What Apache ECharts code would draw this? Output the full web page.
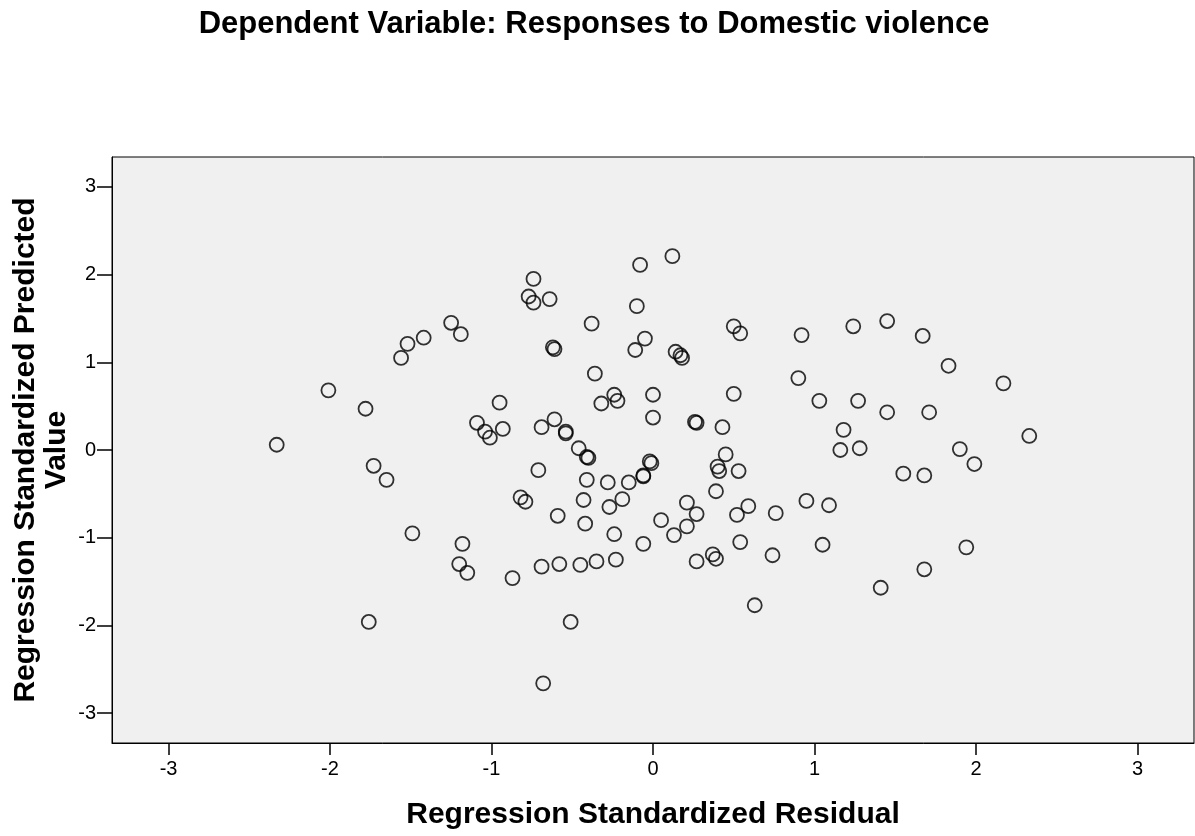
<!DOCTYPE html>
<html>
<head>
<meta charset="utf-8">
<script src="https://cdn.jsdelivr.net/npm/echarts@6/dist/echarts.min.js"></script>
<style>
  html, body { margin: 0; padding: 0; background: #fff; }
  #chart { width: 1195px; height: 836px; }
</style>
</head>
<body>
<div id="chart"></div>
<script>
// residuals (x) and predicted values (y)
var residuals = [
  -2.33, -2.01, -1.78, -1.73, -1.65, -1.76, -1.56, -1.52, -1.42, -1.49,
  -1.25, -1.19, -1.18, -1.20, -1.15, -1.09, -1.04, -1.01, -0.95, -0.93,
  -0.87, -0.82, -0.79, -0.77, -0.74, -0.74, -0.64, -0.69, -0.71, -0.69,
  -0.68, -0.62, -0.61, -0.61, -0.54, -0.54, -0.59, -0.58, -0.51, -0.46,
  -0.41, -0.40, -0.41, -0.43, -0.42, -0.45, -0.38, -0.36, -0.35, -0.32,
  -0.28, -0.27, -0.24, -0.22, -0.24, -0.23, -0.19, -0.15, -0.11, -0.10,
  -0.08, -0.05, -0.06, -0.06, -0.06, -0.02, -0.01, 0.00, 0.00, 0.05,
  0.12, 0.13, 0.14, 0.17, 0.18, 0.21, 0.21, 0.26, 0.27, 0.27,
  0.27, 0.37, 0.39, 0.39, 0.40, 0.41, 0.43, 0.45, 0.50, 0.50,
  0.54, 0.53, 0.52, 0.54, 0.59, 0.63, 0.74, 0.76, 0.90, 0.92,
  0.95, 1.03, 1.05, 1.09, 1.16, 1.18, 1.24, 1.27, 1.28, 1.41,
  1.45, 1.45, 1.55, 1.67, 1.68, 1.68, 1.71, 1.83, 1.90, 1.94,
  1.99, 2.17, 2.33
];
var predicted = [
  0.06, 0.68, 0.47, -0.18, -0.34, -1.96, 1.05, 1.21, 1.28, -0.95,
  1.45, 1.32, -1.07, -1.30, -1.40, 0.31, 0.21, 0.14, 0.54, 0.24,
  -1.46, -0.54, -0.59, 1.75, 1.95, 1.68, 1.72, 0.26, -0.23, -1.33,
  -2.66, 1.17, 1.15, 0.35, 0.21, 0.19, -0.75, -1.30, -1.96, 0.02,
  -0.08, -0.09, -0.34, -0.57, -0.84, -1.31, 1.44, 0.87, -1.27, 0.53,
  -0.37, -0.65, 0.63, 0.56, -0.96, -1.25, -0.56, -0.37, 1.14, 1.64,
  2.11, 1.27, -0.29, -0.30, -1.07, -0.13, -0.15, 0.63, 0.37, -0.80,
  2.21, -0.97, 1.12, 1.08, 1.05, -0.60, -0.87, 0.32, 0.31, -0.73,
  -1.27, -1.19, -1.24, -0.47, -0.19, -0.24, 0.26, -0.05, 0.64, 1.41,
  1.33, -0.24, -0.74, -1.05, -0.64, -1.77, -1.20, -0.72, 0.82, 1.31,
  -0.58, 0.56, -1.08, -0.63, 0.00, 0.23, 1.41, 0.56, 0.02, -1.57,
  1.47, 0.43, -0.27, 1.30, -0.29, -1.36, 0.43, 0.96, 0.01, -1.11,
  -0.16, 0.76, 0.16
];
var xTicks = [-3, -2, -1, 0, 1, 2, 3];
var yTicks = [-3, -2, -1, 0, 1, 2, 3];

var points = residuals.map(function (r, i) { return [r, predicted[i]]; });

var font = 'Arial, "Liberation Sans", sans-serif';
var chart = echarts.init(document.getElementById('chart'));
chart.setOption({
  animation: false,
  backgroundColor: '#fff',
  title: {
    text: 'Dependent Variable: Responses to Domestic violence',
    left: 589,
    top: 4,
    textAlign: 'center',
    textStyle: { fontFamily: font, fontSize: 31, fontWeight: 'bold', color: '#000' }
  },
  grid: {
    left: 112, right: 1, top: 157, bottom: 93,
    outerBoundsMode: 'none',
    containLabel: false,
    show: true,
    backgroundColor: '#f0f0f0',
    borderColor: '#000',
    borderWidth: 1
  },
  xAxis: {
    type: 'value',
    min: -3.35, max: 3.35,
    name: 'Regression Standardized Residual',
    nameLocation: 'middle',
    nameGap: 57,
    nameMoveOverlap: false,
    nameTextStyle: { fontFamily: font, fontSize: 30, fontWeight: 'bold', color: '#000' },
    axisLine: { show: true, onZero: false, lineStyle: { color: '#000', width: 1 } },
    axisTick: { show: true, customValues: xTicks, length: 12, lineStyle: { color: '#000', width: 1.5 } },
    axisLabel: { customValues: xTicks, margin: 16, fontFamily: font, fontSize: 20, color: '#000' },
    splitLine: { show: false }
  },
  yAxis: {
    type: 'value',
    min: -3.34, max: 3.34,
    name: 'Regression Standardized Predicted\nValue',
    nameLocation: 'middle',
    nameRotate: 90,
    nameGap: 40,
    nameMoveOverlap: false,
    nameTextStyle: { fontFamily: font, fontSize: 30, fontWeight: 'bold', color: '#000', lineHeight: 31, align: 'center' },
    axisLine: { show: true, onZero: false, lineStyle: { color: '#000', width: 1 } },
    axisTick: { show: true, customValues: yTicks, length: 15, lineStyle: { color: '#000', width: 1.5 } },
    axisLabel: { customValues: yTicks, margin: 16, fontFamily: font, fontSize: 20, color: '#000' },
    splitLine: { show: false }
  },
  series: [{
    type: 'scatter',
    data: points,
    symbol: 'circle',
    symbolSize: 14,
    itemStyle: { color: 'rgba(0,0,0,0)', borderColor: '#000', borderWidth: 1.8 }
  }]
});
</script>
</body>
</html>
